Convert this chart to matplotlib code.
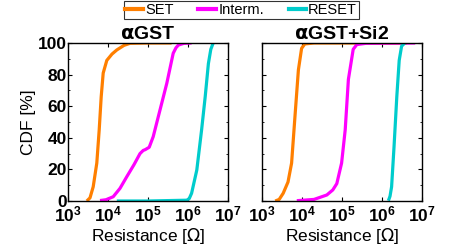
import numpy as np
import matplotlib

matplotlib.use('Agg')
import matplotlib.pyplot as plt
from matplotlib.lines import Line2D

plt.rcParams['font.family'] = ['Liberation Sans', 'DejaVu Sans']

# log10(resistance) vs CDF [%]
gst_set_logr = [3.47, 3.55, 3.63, 3.72, 3.78, 3.83, 3.88, 3.97, 4.1, 4.22, 4.4, 4.55, 5.0, 5.59]
gst_set_cdf = [0, 2, 9, 24, 45, 66, 81, 89, 93, 95.6, 98.5, 99.8, 100, 100]
gst_int_logr = [3.8, 3.95, 4.13, 4.3, 4.47, 4.65, 4.8, 4.88, 4.93, 5.03, 5.13, 5.3, 5.47, 5.63, 5.7, 5.76, 5.9, 6.09]
gst_int_cdf = [0.3, 0.8, 2.7, 8, 15.4, 23, 30, 32, 32.5, 34, 40.7, 57.6, 74.5, 93.5, 97, 98.7, 99.8, 100]
gst_res_logr = [4.22, 5.0, 5.97, 6.03, 6.09, 6.22, 6.34, 6.43, 6.51, 6.57, 6.63]
gst_res_cdf = [0, 0, 0.5, 1.5, 4.9, 19.6, 45, 66, 87, 96, 100]

si_set_logr = [3.33, 3.43, 3.53, 3.65, 3.74, 3.83, 3.91, 3.99, 4.07, 4.3, 6.62]
si_set_cdf = [0, 1, 4.9, 12, 24, 55.5, 83, 96.6, 99.4, 100, 100]
si_int_logr = [3.87, 4.3, 4.62, 4.77, 4.87, 4.99, 5.08, 5.16, 5.28, 5.37, 5.6, 6.83]
si_int_cdf = [0.2, 1, 3.8, 7, 11, 24, 45, 77, 96, 99, 99.8, 100]
si_res_logr = [6.16, 6.2, 6.24, 6.30, 6.37, 6.43, 6.49, 6.57]
si_res_cdf = [0.2, 3, 9, 34, 66, 89, 98, 100]

labels = ['SET', 'Interm.', 'RESET']
colors = ['#FF7F00', '#FF00FF', '#00CCCC']
titles = [r'$\mathbf{\alpha}$GST', r'$\mathbf{\alpha}$GST+Si2']

panels = [
    [(gst_set_logr, gst_set_cdf), (gst_int_logr, gst_int_cdf), (gst_res_logr, gst_res_cdf)],
    [(si_set_logr, si_set_cdf), (si_int_logr, si_int_cdf), (si_res_logr, si_res_cdf)],
]

fig = plt.figure(figsize=(4.51, 2.52), dpi=100)
ax1 = fig.add_axes([68 / 451, 51 / 252, 160 / 451, 158 / 252])
ax2 = fig.add_axes([262 / 451, 51 / 252, 160 / 451, 158 / 252])

for ax, curves, title in zip([ax1, ax2], panels, titles):
    for (lr, c), col in zip(curves, colors):
        ax.plot(10 ** np.array(lr), c, color=col, lw=2.3, solid_capstyle='butt')
    ax.set_xscale('log')
    ax.set_xlim(1e3, 1e7)
    ax.set_ylim(0, 100)
    ax.set_xticks([1e3, 1e4, 1e5, 1e6, 1e7])
    ax.set_yticks([0, 20, 40, 60, 80, 100])
    ax.set_yticks([10, 30, 50, 70, 90], minor=True)
    ax.tick_params(which='both', direction='in', top=True, right=True, labelsize=12.5)
    ax.tick_params(axis='y', pad=1)
    ax.tick_params(axis='x', pad=2.5)
    ax.tick_params(which='major', length=3, width=0.8)
    ax.tick_params(which='minor', length=1.5, width=0.6)
    for lab in ax.get_xticklabels() + ax.get_yticklabels():
        lab.set_fontweight('bold')
    for s in ax.spines.values():
        s.set_linewidth(1.0)
    ax.set_title(title, fontsize=14, fontweight='bold', pad=1)
    ax.set_xlabel('Resistance [$\\Omega$]', fontsize=12.5, labelpad=1)

ax1.set_ylabel('CDF [%]', fontsize=12.5, labelpad=1)
ax2.set_yticklabels([])

handles = [Line2D([], [], color=c, lw=3) for c in colors]
leg = fig.legend(handles, labels, loc='upper center', bbox_to_anchor=(0.535, 1.0), ncol=3,
                 fontsize=10.5, frameon=True, fancybox=False, edgecolor='black',
                 handlelength=1.2, handletextpad=0.15, columnspacing=1.7,
                 borderpad=0.12, borderaxespad=0.1)
leg.get_frame().set_linewidth(0.8)

fig.savefig('out.png', dpi=100)
